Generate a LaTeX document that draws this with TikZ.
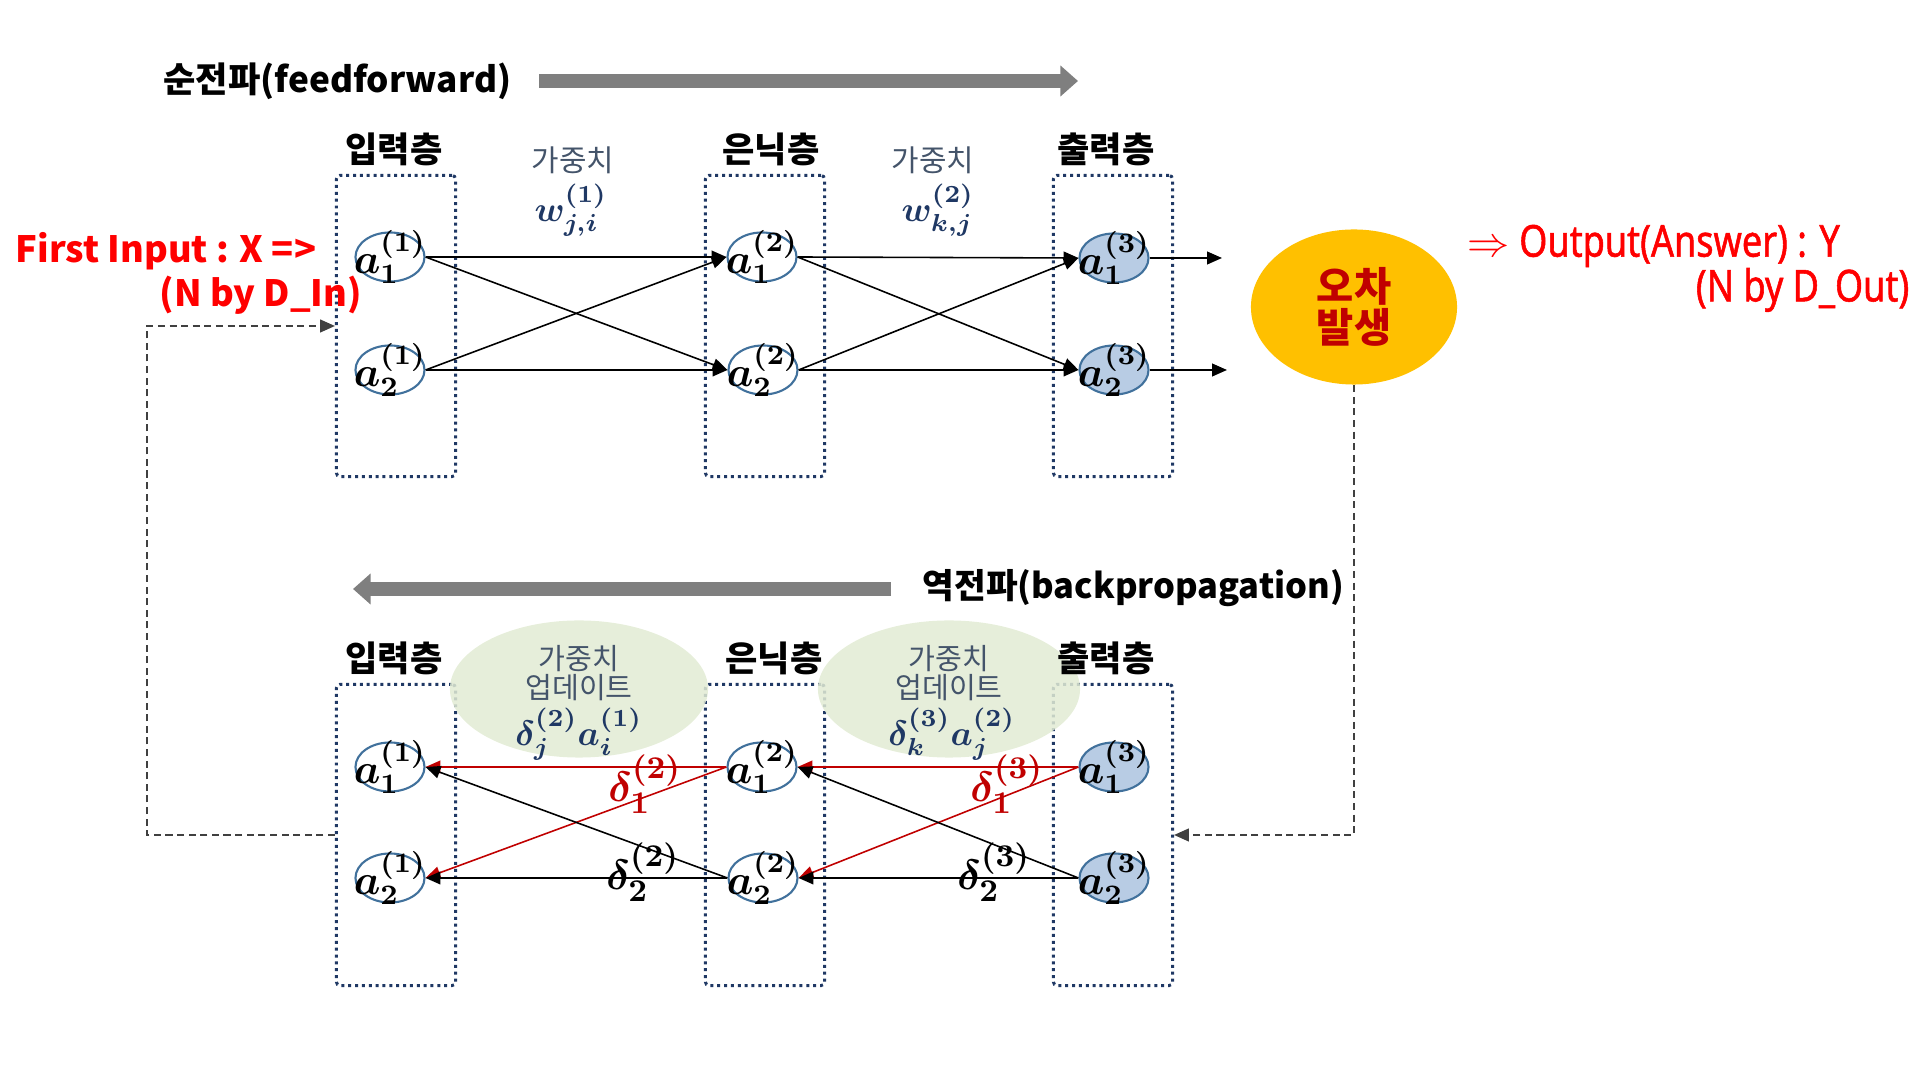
\documentclass[tikz,border=0pt]{standalone}
\usepackage[no-math]{fontspec}
\usepackage{amsmath}
\usepackage{xcolor}
\usepackage{tikz}
\usetikzlibrary{arrows.meta,calc,shapes.geometric}
\setmainfont{Noto Sans CJK KR}
\newfontfamily\narrowfont[FakeStretch=0.82,FakeBold=1.2]{Noto Sans}
\definecolor{boxblue}{HTML}{1F3864}
\definecolor{nodeline}{HTML}{41719C}
\definecolor{outfill}{HTML}{B8CCE4}
\definecolor{wtext}{HTML}{44546A}
\definecolor{updgreen}{HTML}{E2EBD4}
\definecolor{errfill}{HTML}{FFC000}
\definecolor{errtext}{HTML}{C00000}
\definecolor{backred}{HTML}{C00000}
\definecolor{arrowgray}{HTML}{7F7F7F}
\definecolor{loopgray}{HTML}{404040}

\begin{document}
\begin{tikzpicture}[x=0.01cm, y=-0.01cm,
	layerbox/.style={draw=boxblue, line width=0.85pt, dash pattern=on 0.85pt off 1.1pt, rounded corners=1pt, minimum width=1.19cm, minimum height=3.01cm, inner sep=0pt},
	neuron/.style={ellipse, draw=nodeline, line width=0.6pt, fill=white, minimum width=0.69cm, minimum height=0.49cm, inner xsep=-4pt, inner ysep=-4pt, font=\fontsize{11.5}{12}\selectfont\boldmath},
	outneuron/.style={neuron, fill=outfill},
	layername/.style={font=\fontsize{10}{12}\selectfont\bfseries},
	wlabel/.style={text=wtext, font=\fontsize{8.5}{9}\selectfont},
	wmath/.style={text=boxblue, font=\fontsize{10}{12}\selectfont\boldmath},
	update/.style={ellipse, fill=updgreen, fill opacity=0.85, minimum width=2.58cm, minimum height=1.37cm, inner sep=0pt},
	updtext/.style={text=wtext, align=center, font=\fontsize{8.3}{8.2}\selectfont},
	updmath/.style={text=boxblue, font=\fontsize{10}{12}\selectfont\boldmath},
	delta/.style={font=\fontsize{13}{15}\selectfont\boldmath},
	link/.style={-{Triangle[length=4.2pt,width=3.6pt]}, line width=0.45pt},
	feedback/.style={draw=loopgray, line width=0.55pt, dash pattern=on 2pt off 1.3pt, -{Triangle[length=4.2pt,width=3.6pt]}},
	bigarrow/.style={draw=arrowgray, line width=4.2pt, -{Triangle[length=5pt,width=8.5pt]}},
	title/.style={inner sep=0pt, font=\fontsize{10}{12}\selectfont\bfseries},
	redtext/.style={text=red, inner sep=0pt, font=\fontsize{10.3}{12}\selectfont\bfseries},
	answer/.style={text=red, inner sep=0pt, font=\narrowfont\fontsize{12.5}{14}\selectfont}]
	\path[use as bounding box] (0,0) rectangle (1920,1080);

	\node[title, anchor=east] (fftitle) at (512,81) {순전파(feedforward)};
	\coordinate (ffstart) at (539,81);
	\coordinate (ffend) at (1078,81);
	\draw[bigarrow] (ffstart) -- (ffend);

	\node[layerbox] (inA) at (396,326) {};
	\node[layerbox] (hidA) at (765,326) {};
	\node[layerbox] (outA) at (1113,326) {};
	\node[layername] (inAname) at (394,149) {입력층};
	\node[layername] (hidAname) at (771,149) {은닉층};
	\node[layername] (outAname) at (1106,149) {출력층};
	\node[wlabel] (wt1) at (573,160) {가중치};
	\node[wmath] (w1) at (571,210) {$w^{(1)}_{j,i}$};
	\node[wlabel] (wt2) at (933,160) {가중치};
	\node[wmath] (w2) at (938,210) {$w^{(2)}_{k,j}$};

	\node[neuron] (i1A) at (390,257) {$a^{(1)}_1$};
	\node[neuron] (i2A) at (390,370) {$a^{(1)}_2$};
	\node[neuron] (h1A) at (762,257) {$a^{(2)}_1$};
	\node[neuron] (h2A) at (763,370) {$a^{(2)}_2$};
	\node[outneuron] (o1A) at (1114,258) {$a^{(3)}_1$};
	\node[outneuron] (o2A) at (1114,370) {$a^{(3)}_2$};
	\draw[link] (i1A.east) -- (h1A.west);
	\draw[link] (i1A.east) -- (h2A.west);
	\draw[link] (i2A.east) -- (h1A.west);
	\draw[link] (i2A.east) -- (h2A.west);
	\draw[link] (h1A.east) -- (o1A.west);
	\draw[link] (h1A.east) -- (o2A.west);
	\draw[link] (h2A.east) -- (o1A.west);
	\draw[link] (h2A.east) -- (o2A.west);
	\coordinate (y1) at (1222,258);
	\coordinate (y2) at (1227,370);
	\draw[link] (o1A.east) -- (y1);
	\draw[link] (o2A.east) -- (y2);

	\node[ellipse, fill=errfill, minimum width=2.06cm, minimum height=1.55cm, inner sep=0pt, text=errtext, align=center, font=\fontsize{11.5}{10}\selectfont\bfseries] (err) at (1354,307) {오차\\발생};
	\node[answer, anchor=west] (ans) at (1467,246) {$\Rightarrow$ Output(Answer) : Y};
	\node[answer, anchor=east] (ansdim) at (1910,290) {(N by D\_Out)};
	\node[redtext, anchor=west] (xin) at (15,251) {First Input : X =>};
	\node[redtext, anchor=west] (xindim) at (159,295) {(N by D\_In)};

	\node[title, anchor=west, font=\fontsize{9.8}{12}\selectfont\bfseries] (bptitle) at (922,588) {역전파(backpropagation)};
	\coordinate (bpstart) at (891,589);
	\coordinate (bpend) at (353,589);
	\draw[bigarrow] (bpstart) -- (bpend);

	\node[layerbox] (inB) at (396,835) {};
	\node[layerbox] (hidB) at (765,835) {};
	\node[layerbox] (outB) at (1113,835) {};
	\node[update] (upd1) at (579,689) {};
	\node[update, minimum width=2.62cm] (upd2) at (949,689) {};
	\node[updtext] (upd1txt) at (579,673) {가중치\\업데이트};
	\node[updmath] (upd1eq) at (579,734) {$\delta^{(2)}_j a^{(1)}_i$};
	\node[updtext] (upd2txt) at (949,673) {가중치\\업데이트};
	\node[updmath] (upd2eq) at (952,734) {$\delta^{(3)}_k a^{(2)}_j$};
	\node[layername] (inBname) at (394,658) {입력층};
	\node[layername] (hidBname) at (774,658) {은닉층};
	\node[layername] (outBname) at (1106,658) {출력층};

	\node[neuron] (i1B) at (390,767) {$a^{(1)}_1$};
	\node[neuron] (i2B) at (390,878) {$a^{(1)}_2$};
	\node[neuron] (h1B) at (762,767) {$a^{(2)}_1$};
	\node[neuron] (h2B) at (763,878) {$a^{(2)}_2$};
	\node[outneuron] (o1B) at (1114,767) {$a^{(3)}_1$};
	\node[outneuron] (o2B) at (1114,878) {$a^{(3)}_2$};
	\draw[link, backred] (h1B.west) -- (i1B.east);
	\draw[link, backred] (h1B.west) -- (i2B.east);
	\draw[link] (h2B.west) -- (i1B.east);
	\draw[link] (h2B.west) -- (i2B.east);
	\draw[link, backred] (o1B.west) -- (h1B.east);
	\draw[link, backred] (o1B.west) -- (h2B.east);
	\draw[link] (o2B.west) -- (h1B.east);
	\draw[link] (o2B.west) -- (h2B.east);
	\node[delta, text=backred] (d21) at (645,784) {$\delta^{(2)}_1$};
	\node[delta] (d22) at (643,872) {$\delta^{(2)}_2$};
	\node[delta, text=backred] (d31) at (1007,784) {$\delta^{(3)}_1$};
	\node[delta] (d32) at (994,872) {$\delta^{(3)}_2$};

	\coordinate (loopL) at (147,0);
	\draw[feedback] (inB.west) -- (inB.west -| loopL) |- (inA.west);
	\draw[feedback] (err.south) |- (outB.east);
\end{tikzpicture}
\end{document}
